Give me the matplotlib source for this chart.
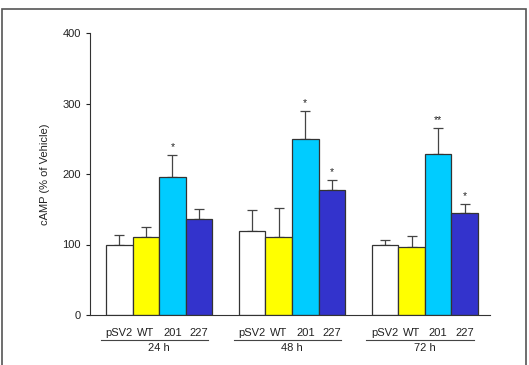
import numpy as np
import matplotlib
matplotlib.use("Agg")
import matplotlib.pyplot as plt
import matplotlib.transforms as mtransforms
from matplotlib.patches import Rectangle

plt.rcParams['font.family'] = ['Liberation Sans', 'DejaVu Sans']

# data
groups = ['24 h', '48 h', '72 h']
constructs = ['pSV2', 'WT', '201', '227']
means = [
    [99, 111, 196, 136],
    [119, 111, 249, 178],
    [99, 97, 229, 144],
]
errs = [
    [14, 14, 31, 14],
    [30, 41, 41, 14],
    [8, 15, 36, 13],
]
stars = [
    ['', '', '*', ''],
    ['', '', '*', '*'],
    ['', '', '**', '*'],
]
colors = ['white', '#ffff00', '#00ccff', '#3333cc']

fig = plt.figure(figsize=(5.29, 3.65), dpi=100)
# grey frame round the figure
fig.patches.append(Rectangle((2 / 529, -0.05), 524 / 529, 1.05 - 9 / 365,
                             transform=fig.transFigure, fill=False,
                             edgecolor='#555555', linewidth=1.2))

ax = fig.add_axes([90 / 529, 1 - 315 / 365, 400 / 529, 282 / 365])
trans = mtransforms.blended_transform_factory(ax.transData, ax.transAxes)

for g, name in enumerate(groups):
    x0 = g * 5
    xs = x0 + np.arange(4)
    ax.bar(xs, means[g], width=1, align='edge', color=colors,
           edgecolor='#333333', linewidth=0.9, zorder=2)
    ax.errorbar(xs + 0.5, means[g], yerr=[np.zeros(4), errs[g]], fmt='none',
                ecolor='#444444', elinewidth=0.9, capsize=3.5, capthick=0.9,
                zorder=1)
    for i in range(4):
        if stars[g][i]:
            ax.text(xs[i] + 0.5, means[g][i] + errs[g][i] + 4, stars[g][i],
                    ha='center', va='bottom', fontsize=7.5, color='#222222')
        ax.text(xs[i] + 0.5, -0.064, constructs[i], transform=trans,
                ha='center', va='center', fontsize=8, color='#222222')
    ax.plot([x0 - 0.2, x0 + 3.85], [-0.089, -0.089], transform=trans,
            color='#444444', linewidth=0.8, clip_on=False)
    ax.text(x0 + 2, -0.118, name, transform=trans, ha='center', va='center',
            fontsize=8, color='#222222')

ax.set_xlim(-0.6, 14.45)
ax.set_ylim(0, 400)
ax.set_yticks([0, 100, 200, 300, 400])
ax.set_xticks([])
ax.tick_params(axis='y', labelsize=8, length=3, width=0.8, colors='#222222')
for s in ['top', 'right']:
    ax.spines[s].set_visible(False)
for s in ['left', 'bottom']:
    ax.spines[s].set_color('#333333')
    ax.spines[s].set_linewidth(0.8)
ax.set_ylabel('cAMP (% of Vehicle)', fontsize=8, color='#222222', labelpad=9)

fig.savefig('out.png', dpi=100)
